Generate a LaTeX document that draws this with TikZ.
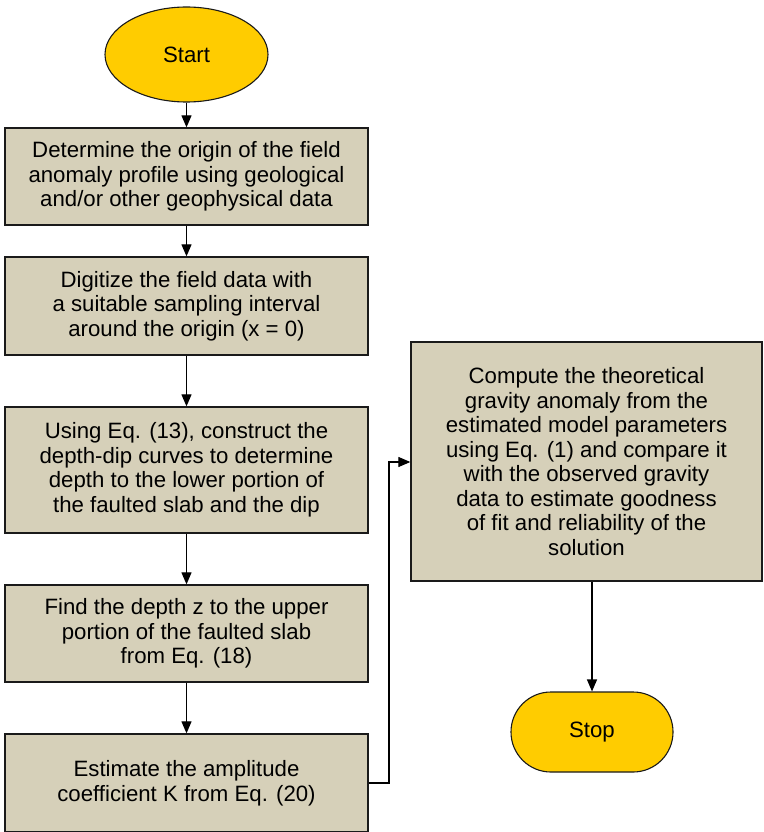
\documentclass[tikz,border=0pt]{standalone}
\usepackage{fontspec}
\setmainfont{Liberation Sans}
\usetikzlibrary{arrows.meta,shapes.geometric}
\definecolor{boxfill}{HTML}{D6D0B9}
\definecolor{termfill}{HTML}{FFCC00}
\definecolor{edge}{HTML}{1A1A1A}
\tikzset{
  every node/.style={font=\fontsize{22.2}{24.5}\selectfont, text=black},
  procbox/.style={draw=edge, line width=1.3pt, fill=boxfill, rectangle, inner sep=0pt, align=center, minimum width=363pt},
  termnode/.style={draw=edge, line width=1.1pt, fill=termfill, inner sep=0pt, align=center},
  flow/.style={draw=black, line width=1.2pt, -{Triangle[length=12pt,width=10pt]}}
}
\begin{document}
\begin{tikzpicture}[x=1pt,y=-1pt]
\clip (0,0) rectangle (763,832);
\fill[white] (0,0) rectangle (763,832);
\node[termnode, ellipse, minimum width=163pt, minimum height=95pt] (start) at (186.5,54.5) {Start};
\node[procbox, minimum height=97pt] (b1) at (186.5,176.5) {Determine the origin of the field\\anomaly profile using geological\\and/or other geophysical data};
\node[procbox, minimum height=98pt] (b2) at (186.5,306) {Digitize the field data with\\a suitable sampling interval\\around the origin (x = 0)};
\node[procbox, minimum height=126pt] (b3) at (186.5,470) {Using Eq. (13), construct the\\depth-dip curves to determine\\depth to the lower portion of\\the faulted slab and the dip};
\node[procbox, minimum height=97pt] (b4) at (186.5,633.5) {Find the depth z to the upper\\portion of the faulted slab\\from Eq. (18)};
\node[procbox, minimum height=98pt] (b5) at (186.5,783) {Estimate the amplitude\\coefficient K from Eq. (20)};
\node[procbox, minimum width=351pt, minimum height=239pt] (b6) at (586.5,461.5) {Compute the theoretical\\gravity anomaly from the\\estimated model parameters\\using Eq. (1) and compare it\\with the observed gravity\\data to estimate goodness\\of fit and reliability of the\\solution};
\node[termnode, rectangle, rounded corners=39.9pt, minimum width=162pt, minimum height=80pt] (stop) at (592,732) {Stop};
\coordinate (k1) at (389,783);
\coordinate (k2) at (389,462);
\draw[flow] (start) -- (b1);
\draw[flow] (b1) -- (b2);
\draw[flow] (b2) -- (b3);
\draw[flow] (b3) -- (b4);
\draw[flow] (b4) -- (b5);
\draw[flow] (b5.east |- k1) -- (k1) -- (k2) -- (b6.west |- k2);
\draw[flow] (b6.south -| stop.north) -- (stop.north);
\end{tikzpicture}
\end{document}
